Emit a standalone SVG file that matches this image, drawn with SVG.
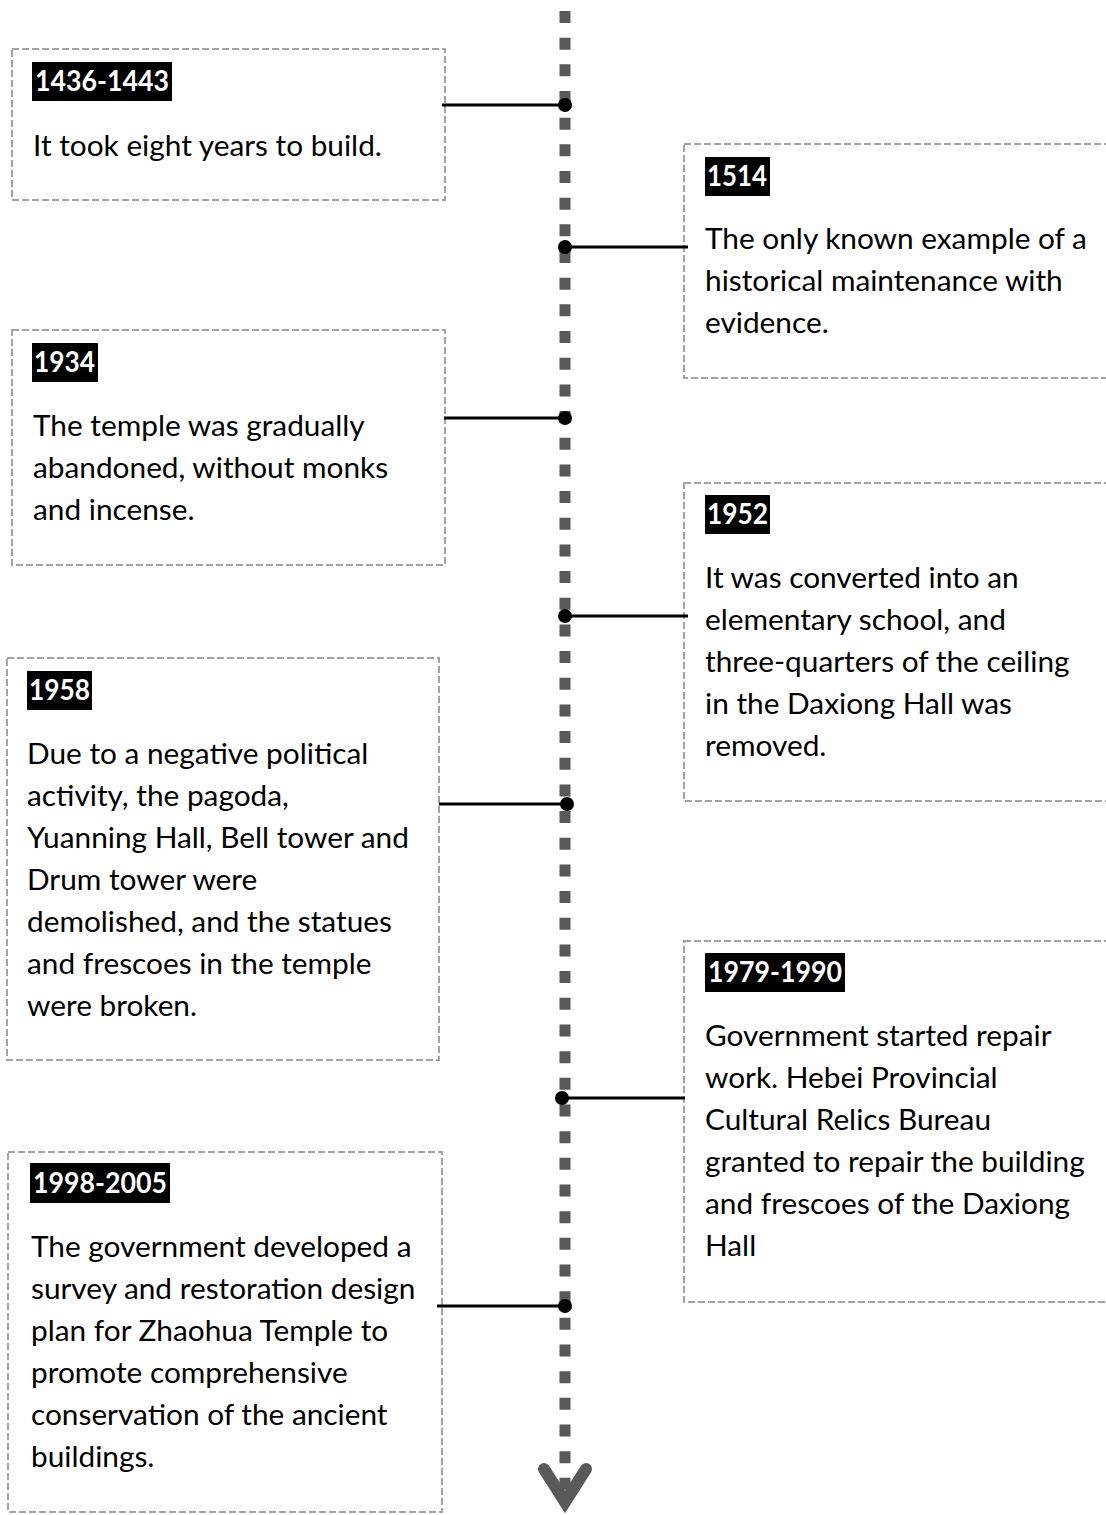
<svg xmlns="http://www.w3.org/2000/svg" width="1106" height="1515" viewBox="0 0 1106 1515">
<style>
.box{fill:#fff;stroke:#a3a3a3;stroke-width:2;stroke-dasharray:7 3}
.lab{fill:#000}
.lt{font-family:Lato,"Liberation Sans",sans-serif;font-weight:bold;font-size:28px;fill:#fff}
.bt{font-family:Lato,"Liberation Sans",sans-serif;font-size:29.8px;fill:#000}
.con{stroke:#000;stroke-width:3}
.dot{fill:#000}
</style>
<rect width="1106" height="1515" fill="#fff"/>
<g id="timeline">
<line x1="565" y1="11" x2="565" y2="1490" stroke="#595959" stroke-width="11" stroke-dasharray="12 14.67"/>
<polyline points="544,1469 565,1502 586,1469" fill="none" stroke="#595959" stroke-width="12" stroke-linecap="round" stroke-linejoin="miter"/>
</g>
<g id="n1436">
<rect class="box" x="12" y="49" width="433" height="151"/>
<rect class="lab" x="32" y="62" width="140" height="39"/>
<text class="lt" x="35" y="91" textLength="134" lengthAdjust="spacingAndGlyphs">1436-1443</text>
<text class="bt" x="33" y="156">It took eight years to build.</text>
</g>
<g id="n1514">
<rect class="box" x="684" y="144" width="430" height="234"/>
<rect class="lab" x="705" y="157" width="65" height="39"/>
<text class="lt" x="707" y="186" textLength="60" lengthAdjust="spacingAndGlyphs">1514</text>
<text class="bt" x="705" y="249">The only known example of a</text>
<text class="bt" x="705" y="291">historical maintenance with</text>
<text class="bt" x="705" y="333">evidence.</text>
</g>
<g id="n1934">
<rect class="box" x="12" y="330" width="433" height="235"/>
<rect class="lab" x="32" y="343" width="66" height="39"/>
<text class="lt" x="34" y="372" textLength="61" lengthAdjust="spacingAndGlyphs">1934</text>
<text class="bt" x="33" y="436">The temple was gradually</text>
<text class="bt" x="33" y="478">abandoned, without monks</text>
<text class="bt" x="33" y="520">and incense.</text>
</g>
<g id="n1952">
<rect class="box" x="684" y="483" width="430" height="318"/>
<rect class="lab" x="705" y="495" width="65" height="39"/>
<text class="lt" x="707" y="524" textLength="61" lengthAdjust="spacingAndGlyphs">1952</text>
<text class="bt" x="705" y="588">It was converted into an</text>
<text class="bt" x="705" y="630">elementary school, and</text>
<text class="bt" x="705" y="672">three-quarters of the ceiling</text>
<text class="bt" x="705" y="714">in the Daxiong Hall was</text>
<text class="bt" x="705" y="756">removed.</text>
</g>
<g id="n1958">
<rect class="box" x="7" y="658" width="432" height="402"/>
<rect class="lab" x="27" y="671" width="65" height="39"/>
<text class="lt" x="29" y="700" textLength="61" lengthAdjust="spacingAndGlyphs">1958</text>
<text class="bt" x="27" y="764">Due to a negative political</text>
<text class="bt" x="27" y="806">activity, the pagoda,</text>
<text class="bt" x="27" y="848">Yuanning Hall, Bell tower and</text>
<text class="bt" x="27" y="890">Drum tower were</text>
<text class="bt" x="27" y="932">demolished, and the statues</text>
<text class="bt" x="27" y="974">and frescoes in the temple</text>
<text class="bt" x="27" y="1016">were broken.</text>
</g>
<g id="n1979">
<rect class="box" x="684" y="941" width="430" height="361"/>
<rect class="lab" x="705" y="953" width="140" height="39"/>
<text class="lt" x="708" y="982" textLength="134" lengthAdjust="spacingAndGlyphs">1979-1990</text>
<text class="bt" x="705" y="1046">Government started repair</text>
<text class="bt" x="705" y="1088">work. Hebei Provincial</text>
<text class="bt" x="705" y="1130">Cultural Relics Bureau</text>
<text class="bt" x="705" y="1172">granted to repair the building</text>
<text class="bt" x="705" y="1214">and frescoes of the Daxiong</text>
<text class="bt" x="705" y="1256">Hall</text>
</g>
<g id="n1998">
<rect class="box" x="8" y="1152" width="434" height="360"/>
<rect class="lab" x="30" y="1163" width="140" height="40"/>
<text class="lt" x="33" y="1193" textLength="134" lengthAdjust="spacingAndGlyphs">1998-2005</text>
<text class="bt" x="31" y="1257">The government developed a</text>
<text class="bt" x="31" y="1299">survey and restoration design</text>
<text class="bt" x="31" y="1341">plan for Zhaohua Temple to</text>
<text class="bt" x="31" y="1383">promote comprehensive</text>
<text class="bt" x="31" y="1425">conservation of the ancient</text>
<text class="bt" x="31" y="1467">buildings.</text>
</g>
<g id="connectors">
<line class="con" x1="442" y1="105" x2="565" y2="105"/><circle class="dot" cx="565" cy="105" r="7"/>
<line class="con" x1="565" y1="247" x2="688" y2="247"/><circle class="dot" cx="565" cy="247" r="7"/>
<line class="con" x1="444" y1="418" x2="565" y2="418"/><circle class="dot" cx="565" cy="418" r="7"/>
<line class="con" x1="565" y1="616" x2="688" y2="616"/><circle class="dot" cx="565" cy="616" r="7"/>
<line class="con" x1="439" y1="804" x2="567" y2="804"/><circle class="dot" cx="567" cy="804" r="7"/>
<line class="con" x1="562" y1="1098" x2="685" y2="1098"/><circle class="dot" cx="562" cy="1098" r="7"/>
<line class="con" x1="437" y1="1306" x2="565" y2="1306"/><circle class="dot" cx="565" cy="1306" r="7"/>
</g>
</svg>
